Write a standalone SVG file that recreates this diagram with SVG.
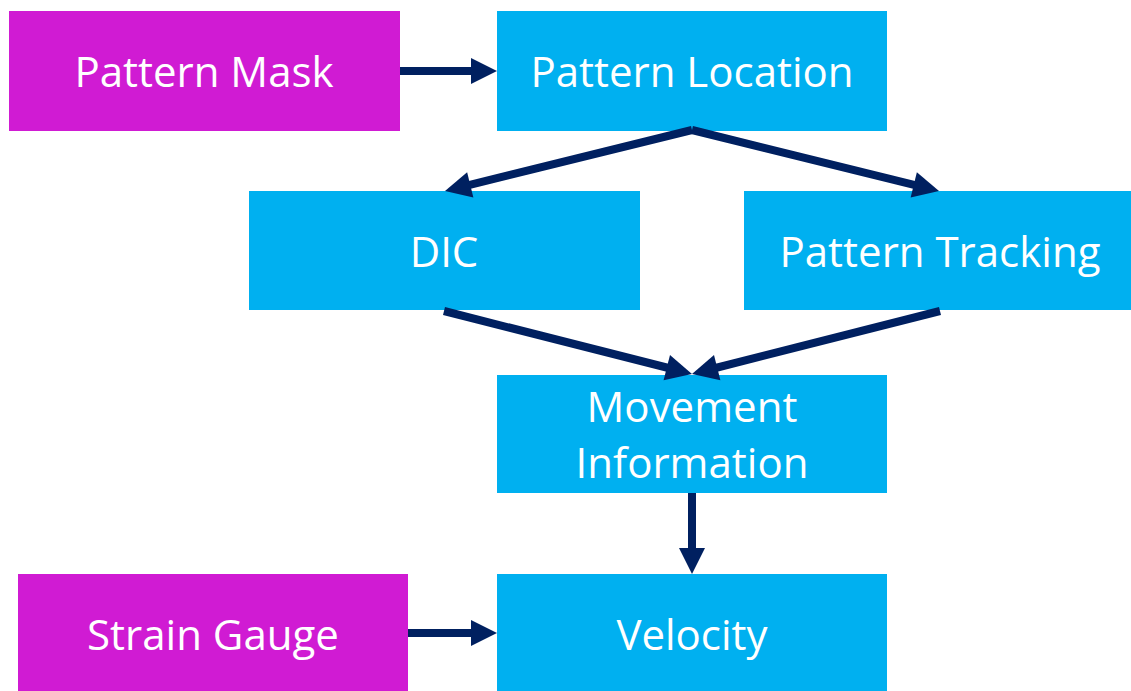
<svg xmlns="http://www.w3.org/2000/svg" width="1131" height="691" viewBox="0 0 1131 691">
  <style>
    .src { fill: #D01BD3; }
    .proc { fill: #00B0F0; }
    .label { font-family: "Open Sans", "Liberation Sans", sans-serif; font-size: 42px; fill: #FFFFFF; text-anchor: middle; }
    .link { stroke: #002060; stroke-width: 8; fill: none; marker-end: url(#head); }
  </style>
  <defs>
    <marker id="head" markerUnits="userSpaceOnUse" markerWidth="26" markerHeight="26" refX="16" refY="13" orient="auto" overflow="visible">
      <path d="M0,0 L26,13 L0,26 Z" fill="#002060"/>
    </marker>
  </defs>
  <rect width="1131" height="691" fill="#FFFFFF"/>

  <g id="pattern-mask">
    <rect class="src" x="9" y="11" width="391" height="120"/>
    <text class="label" x="204" y="87">Pattern Mask</text>
  </g>
  <g id="pattern-location">
    <rect class="proc" x="497" y="11" width="390" height="120"/>
    <text class="label" x="692" y="87">Pattern Location</text>
  </g>
  <g id="dic">
    <rect class="proc" x="249" y="191" width="391" height="119"/>
    <text class="label" x="444" y="267">DIC</text>
  </g>
  <g id="pattern-tracking">
    <rect class="proc" x="744" y="191" width="387" height="119"/>
    <text class="label" x="940" y="267">Pattern Tracking</text>
  </g>
  <g id="movement-information">
    <rect class="proc" x="497" y="375" width="390" height="118"/>
    <text class="label" x="692" y="422">Movement</text>
    <text class="label" x="692" y="478">Information</text>
  </g>
  <g id="strain-gauge">
    <rect class="src" x="18" y="574" width="390" height="117"/>
    <text class="label" x="213" y="650">Strain Gauge</text>
  </g>
  <g id="velocity">
    <rect class="proc" x="497" y="574" width="390" height="117"/>
    <text class="label" x="692" y="650">Velocity</text>
  </g>

  <g id="connectors">
    <line class="link" x1="400" y1="71" x2="487" y2="71"/>
    <line class="link" x1="692" y1="130" x2="454.7" y2="188.6"/>
    <line class="link" x1="692" y1="130" x2="929.3" y2="188.6"/>
    <line class="link" x1="444" y1="311" x2="682.3" y2="371.5"/>
    <line class="link" x1="940" y1="311" x2="701.7" y2="371.5"/>
    <line class="link" x1="692" y1="493" x2="692" y2="564"/>
    <line class="link" x1="408" y1="633" x2="487" y2="633"/>
  </g>
</svg>
